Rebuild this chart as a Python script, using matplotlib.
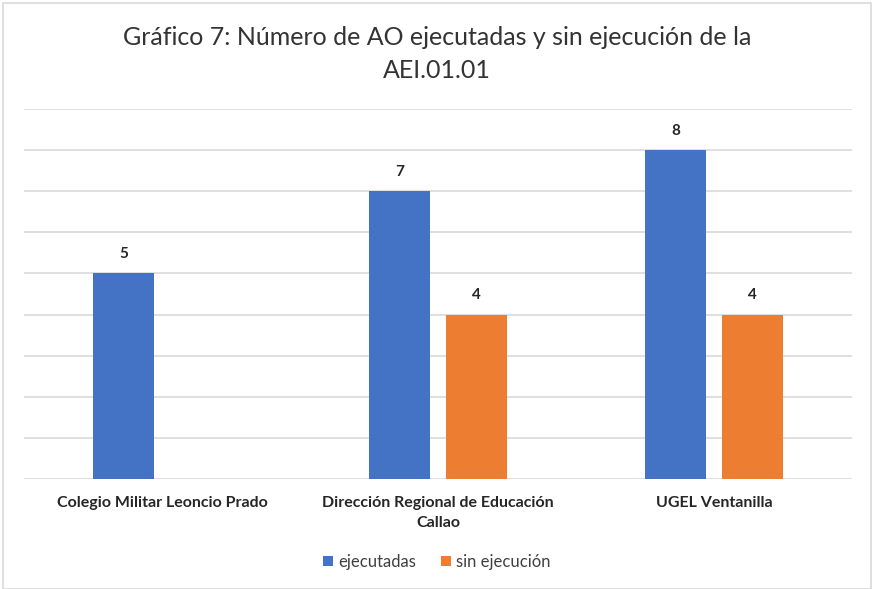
import matplotlib.pyplot as plt
import numpy as np
from matplotlib.patches import Rectangle

categories = ['Colegio Militar Leoncio Prado',
              'Dirección Regional de Educación\nCallao',
              'UGEL Ventanilla']
ejecutadas = [5, 7, 8]
sin_ejecucion = [0, 4, 4]
series_names = ['ejecutadas', 'sin ejecución']

blue = '#4472C4'
orange = '#ED7D31'
font = ['Lato', 'DejaVu Sans']

W, H = 874, 589
fig = plt.figure(figsize=(W / 100, H / 100), dpi=100)
ax = fig.add_axes([24 / W, 1 - 479 / H, 828 / W, 370 / H])

x = np.arange(len(categories))
w = 0.221
off = 0.1395
b1 = ax.bar(x - off, ejecutadas, w, color=blue, label=series_names[0], zorder=3)
b2 = ax.bar(x + off, sin_ejecucion, w, color=orange, label=series_names[1], zorder=3)

for bars, vals in ((b1, ejecutadas), (b2, sin_ejecucion)):
    for r, v in zip(bars, vals):
        if v == 0:
            continue
        ax.text(r.get_x() + r.get_width() / 2, v + 0.3, str(v), ha='center', va='bottom',
                fontsize=11, fontweight='bold', color='#262626', family=font)

ax.set_xlim(-0.5, len(categories) - 0.5)
ax.set_ylim(0, 9)
ax.set_yticks(np.arange(0, 10, 1))
ax.yaxis.grid(True, color='#D9D9D9', linewidth=1.2, zorder=0)
ax.tick_params(axis='y', left=False, labelleft=False)
ax.tick_params(axis='x', length=0, pad=12)
for s in ax.spines.values():
    s.set_visible(False)
ax.set_xticks(x)
ax.set_xticklabels(categories, fontsize=11.5, fontweight='bold', color='#262626',
                   family=font, linespacing=1.55)

fig.text(437 / W, 1 - 54 / H, 'Gráfico 7: Número de AO ejecutadas y sin ejecución de la\nAEI.01.01',
         ha='center', va='center', fontsize=18, color='#333333', family=font, linespacing=1.5)

fig.legend(handles=[b1, b2], loc='center', bbox_to_anchor=(437 / W, 1 - 562 / H), ncol=2,
           frameon=False, prop={'family': font, 'size': 12}, handlelength=0.6,
           handleheight=0.6, handletextpad=0.3, columnspacing=1.5, labelcolor='#404040')

fig.patches.append(Rectangle((3 / W, 0), 868 / W, 1 - 3 / H, transform=fig.transFigure,
                             fill=False, edgecolor='#D9D9D9', linewidth=1.2))

fig.savefig('out.png', dpi=100)
